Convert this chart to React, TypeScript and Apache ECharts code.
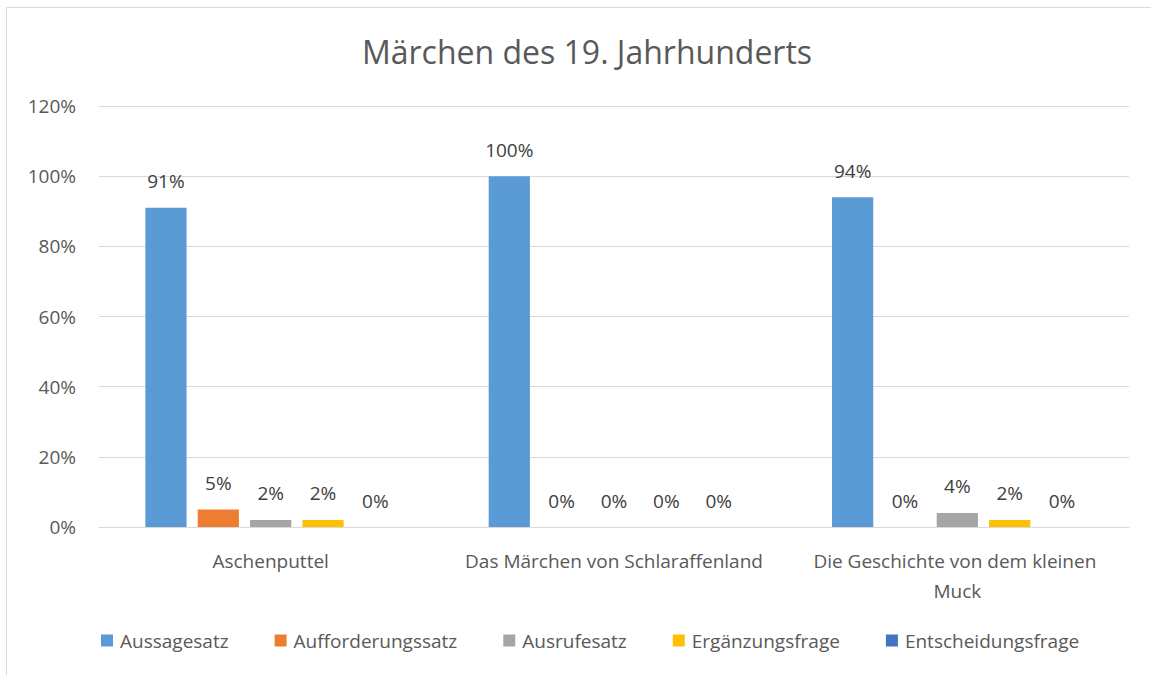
import React, { useEffect, useRef } from "react";
import * as echarts from "echarts";

const categories = [
  "Aschenputtel",
  "Das Märchen von Schlaraffenland",
  "Die Geschichte von dem kleinen Muck",
];
const seriesNames = [
  "Aussagesatz",
  "Aufforderungssatz",
  "Ausrufesatz",
  "Ergänzungsfrage",
  "Entscheidungsfrage",
];
const aussagesatz = [91, 100, 94];
const aufforderungssatz = [5, 0, 0];
const ausrufesatz = [2, 0, 4];
const ergaenzungsfrage = [2, 0, 2];
const entscheidungsfrage = [0, 0, 0];
const colors = ["#5B9BD5", "#ED7D31", "#A5A5A5", "#FFC000", "#4472C4"];
const yTicks = { min: 0, max: 120, interval: 20 };
const titleText = "Märchen des 19. Jahrhunderts";

const FONT = "'Open Sans', sans-serif";
const FS = 19;

export default function App() {
  const ref = useRef<HTMLDivElement>(null);
  useEffect(() => {
    if (!ref.current) return;
    const chart = echarts.init(ref.current, null, { renderer: "svg" });
    const values = [aussagesatz, aufforderungssatz, ausrufesatz, ergaenzungsfrage, entscheidungsfrage];
    chart.setOption({
      animation: false,
      backgroundColor: "#ffffff",
      textStyle: { fontFamily: FONT },
      title: {
        text: titleText,
        left: 582,
        textAlign: "center",
        top: 30,
        textStyle: { fontFamily: FONT, fontSize: 32, fontWeight: "normal", color: "#595959" },
      },
      graphic: [
        {
          type: "polyline",
          shape: { points: [[6.5, 700], [6.5, 7.5], [1160, 7.5]] },
          style: { stroke: "#d9d9d9", lineWidth: 1, fill: null },
          silent: true,
        },
      ],
      legend: {
        top: 626,
        left: 96,
        itemWidth: 12,
        itemHeight: 12,
        itemGap: 46,
        icon: "rect",
        textStyle: { fontFamily: FONT, fontSize: FS, color: "#595959", padding: [0, 0, 0, 2] },
        data: seriesNames,
      },
      grid: { left: 99, right: 22, top: 106, bottom: 148 },
      xAxis: {
        type: "category",
        data: categories,
        axisLine: { lineStyle: { color: "#d9d9d9", width: 1 } },
        axisTick: { show: false },
        axisLabel: {
          color: "#595959",
          fontFamily: FONT,
          fontSize: FS,
          margin: 19,
          width: 318,
          overflow: "break",
          lineHeight: 30,
          interval: 0,
        },
      },
      yAxis: {
        type: "value",
        min: yTicks.min,
        max: yTicks.max,
        interval: yTicks.interval,
        axisLine: { show: false },
        axisTick: { show: false },
        splitLine: { lineStyle: { color: "#d9d9d9", width: 1 } },
        axisLabel: {
          color: "#595959",
          fontFamily: FONT,
          fontSize: FS,
          margin: 23,
          formatter: (v: number) => v + "%",
        },
      },
      series: seriesNames.map((name, i) => ({
        name,
        type: "bar",
        data: values[i],
        itemStyle: { color: colors[i] },
        barGap: "27%",
        barCategoryGap: "27%",
        label: {
          show: true,
          position: "top",
          distance: 17,
          color: "#404040",
          fontFamily: FONT,
          fontSize: FS,
          formatter: (p: any) => p.value + "%",
        },
      })),
    });
    return () => chart.dispose();
  }, []);
  return (
    <div
      ref={ref}
      style={{ position: "absolute", left: 0, top: 0, width: 1151, height: 675 }}
    />
  );
}
